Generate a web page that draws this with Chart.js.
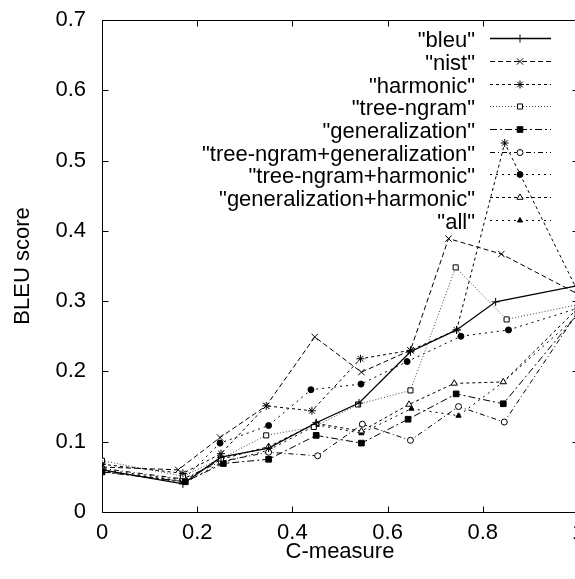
<!DOCTYPE html>
<html>
<head>
<meta charset="UTF-8" />
<title>BLEU score vs C-measure</title>
<script src="https://cdn.jsdelivr.net/npm/chart.js"></script>
<style>
  html, body { margin:0; padding:0; background:#fff; overflow:hidden; }
  #wrap { width:600px; height:579px; }
</style>
</head>
<body>
<div id="wrap"><canvas id="chart" width="600" height="579"></canvas></div>

<script>
// ---- tick labels ----
const xTicks      = [0, 0.2, 0.4, 0.6, 0.8, 1];
const xTickLabels = ['0', '0.2', '0.4', '0.6', '0.8', '1'];
const yTicks      = [0, 0.1, 0.2, 0.3, 0.4, 0.5, 0.6, 0.7];
const yTickLabels = ['0', '0.1', '0.2', '0.3', '0.4', '0.5', '0.6', '0.7'];

// ---- series (C-measure, BLEU score) ----
const bleuX    = [0, 0.17, 0.25, 0.35, 0.45, 0.54, 0.648, 0.745, 0.827, 1];
const bleuY    = [0.060, 0.040, 0.078, 0.091, 0.127, 0.155, 0.228, 0.259, 0.299, 0.322];
const nistX    = [0, 0.16, 0.248, 0.345, 0.447, 0.545, 0.648, 0.728, 0.839, 1];
const nistY    = [0.064, 0.060, 0.106, 0.151, 0.249, 0.199, 0.230, 0.389, 0.367, 0.310];
const harmX    = [0, 0.17, 0.25, 0.345, 0.441, 0.543, 0.648, 0.745, 0.846, 1];
const harmY    = [0.068, 0.055, 0.083, 0.151, 0.144, 0.218, 0.230, 0.259, 0.525, 0.313];
const treeX    = [0, 0.17, 0.25, 0.345, 0.445, 0.538, 0.648, 0.743, 0.85, 1];
const treeY    = [0.073, 0.051, 0.076, 0.109, 0.121, 0.153, 0.173, 0.348, 0.274, 0.295];
const genX     = [0, 0.175, 0.255, 0.35, 0.45, 0.545, 0.643, 0.744, 0.843, 1];
const genY     = [0.057, 0.043, 0.069, 0.075, 0.109, 0.098, 0.132, 0.168, 0.154, 0.282];
const treeGenX = [0, 0.17, 0.25, 0.35, 0.453, 0.547, 0.648, 0.749, 0.845, 1];
const treeGenY = [0.062, 0.047, 0.072, 0.085, 0.080, 0.125, 0.102, 0.150, 0.128, 0.285];
const treeHarX = [0, 0.17, 0.248, 0.35, 0.439, 0.544, 0.641, 0.754, 0.854, 1];
const treeHarY = [0.060, 0.046, 0.098, 0.123, 0.174, 0.182, 0.214, 0.250, 0.259, 0.290];
const genHarX  = [0, 0.17, 0.25, 0.35, 0.45, 0.545, 0.645, 0.74, 0.843, 1];
const genHarY  = [0.058, 0.044, 0.075, 0.093, 0.126, 0.115, 0.153, 0.183, 0.185, 0.290];
const allX     = [0, 0.175, 0.25, 0.35, 0.451, 0.545, 0.65, 0.749, 0.843, 1];
const allY     = [0.058, 0.042, 0.070, 0.088, 0.124, 0.112, 0.147, 0.137, 0.185, 0.280];

const seriesNames = ['"bleu"', '"nist"', '"harmonic"', '"tree-ngram"', '"generalization"',
  '"tree-ngram+generalization"', '"tree-ngram+harmonic"', '"generalization+harmonic"', '"all"'];

const FONT = '"Liberation Sans", Arial, Helvetica, sans-serif';

const pts = (xs, ys) => xs.map((x, i) => ({ x, y: ys[i] }));

// style per series: dash, point style, radius, filled
const styles = [
  { dash: [],           pt: 'cross',    r: 4,   fill: true,  w: 1.3, color: '#000' },
  { dash: [5, 3],       pt: 'crossRot', r: 4.5, fill: true,  w: 1,   color: '#000' },
  { dash: [3, 3],       pt: 'star',     r: 4,   fill: true,  w: 1,   color: '#000' },
  { dash: [1, 2],       pt: 'rect',     r: 3.6, fill: false, w: 1,   color: '#444' },
  { dash: [7, 3, 2, 3], pt: 'rect',     r: 4,   fill: true,  w: 1,   color: '#000' },
  { dash: [5, 3, 1, 3], pt: 'circle',   r: 3,   fill: false, w: 1,   color: '#000' },
  { dash: [2, 4],       pt: 'circle',   r: 3,   fill: true,  w: 1,   color: '#000' },
  { dash: [3, 3],       pt: 'triangle', r: 3.6, fill: false, w: 1,   color: '#000' },
  { dash: [2, 4],       pt: 'triangle', r: 3,   fill: true,  w: 1,   color: '#000' }
];

const allPts = [
  pts(bleuX, bleuY), pts(nistX, nistY), pts(harmX, harmY), pts(treeX, treeY), pts(genX, genY),
  pts(treeGenX, treeGenY), pts(treeHarX, treeHarY), pts(genHarX, genHarY), pts(allX, allY)
];

const datasets = allPts.map((data, i) => {
  const s = styles[i];
  return {
    label: seriesNames[i],
    data,
    borderColor: s.color,
    borderWidth: s.w,
    borderDash: s.dash,
    pointStyle: s.pt,
    pointRadius: s.r,
    pointBorderWidth: 1,
    pointBorderColor: '#000',
    pointBackgroundColor: s.fill ? '#000' : '#fff',
    fill: false,
    tension: 0
  };
});

// frame + inward ticks on all four sides (gnuplot style)
const framePlugin = {
  id: 'frame',
  beforeDatasetsDraw(chart) {
    const { ctx, chartArea: a, scales } = chart;
    const L = 6;
    const l = Math.round(a.left) + 0.5, r = Math.round(a.right) + 0.5;
    const t = Math.round(a.top) + 0.5,  b = Math.round(a.bottom) + 0.5;
    ctx.save();
    ctx.strokeStyle = '#000';
    ctx.lineWidth = 1;
    ctx.setLineDash([]);
    ctx.beginPath();
    ctx.moveTo(l, t); ctx.lineTo(r, t);
    ctx.moveTo(l, b); ctx.lineTo(r, b);
    ctx.moveTo(l, t); ctx.lineTo(l, b);
    ctx.moveTo(r, t); ctx.lineTo(r, b);
    xTicks.forEach(v => {
      const px = Math.round(scales.x.getPixelForValue(v)) + 0.5;
      ctx.moveTo(px, b); ctx.lineTo(px, b - L);
      ctx.moveTo(px, t); ctx.lineTo(px, t + L);
    });
    yTicks.forEach(v => {
      const py = Math.round(scales.y.getPixelForValue(v)) + 0.5;
      ctx.moveTo(l, py); ctx.lineTo(l + L, py);
      ctx.moveTo(r, py); ctx.lineTo(r - L, py);
    });
    ctx.stroke();
    ctx.restore();
  }
};

// gnuplot-like key: right-aligned text, sample line to the right
const keyPlugin = {
  id: 'gnuKey',
  afterDatasetsDraw(chart) {
    const ctx = chart.ctx;
    ctx.save();
    ctx.font = '22px ' + FONT;
    ctx.textAlign = 'right';
    ctx.textBaseline = 'alphabetic';
    chart.data.datasets.forEach((ds, i) => {
      const y = Math.round(38.3 + i * 22.65) + 0.5;
      ctx.fillStyle = '#000';
      ctx.fillText(ds.label, 475, y + 8);
      ctx.beginPath();
      ctx.setLineDash(ds.borderDash);
      ctx.lineWidth = ds.borderWidth;
      ctx.strokeStyle = ds.borderColor;
      ctx.moveTo(490, y); ctx.lineTo(551, y);
      ctx.stroke();
      ctx.setLineDash([]);
      ctx.fillStyle = ds.pointBackgroundColor;
      ctx.strokeStyle = '#000';
      ctx.lineWidth = 1;
      Chart.helpers.drawPoint(ctx, { pointStyle: ds.pointStyle, radius: ds.pointRadius, borderWidth: 1, rotation: 0 }, 520, y);
    });
    ctx.restore();
  }
};

new Chart(document.getElementById('chart'), {
  type: 'line',
  data: { datasets },
  plugins: [framePlugin, keyPlugin],
  options: {
    responsive: false,
    animation: false,
    devicePixelRatio: 1,
    layout: { padding: { top: 20, right: 22, bottom: 0, left: 0 } },
    plugins: { legend: { display: false }, tooltip: { enabled: false } },
    scales: {
      x: {
        type: 'linear', min: 0, max: 1,
        afterFit: s => { s.height = 67; s.paddingLeft = 0; s.paddingRight = 0; },
        afterBuildTicks: s => { s.ticks = xTicks.map(v => ({ value: v })); },
        grid: { display: false },
        border: { display: false },
        ticks: {
          color: '#000', padding: 0, maxRotation: 0,
          font: { family: FONT, size: 22 },
          callback: v => xTickLabels[xTicks.indexOf(v)]
        },
        title: {
          display: true, text: 'C-measure', color: '#000',
          font: { family: FONT, size: 22 }, padding: { top: 0, bottom: 14 }
        }
      },
      y: {
        type: 'linear', min: 0, max: 0.7,
        afterFit: s => { s.width = 102; s.paddingTop = 0; s.paddingBottom = 0; },
        afterBuildTicks: s => { s.ticks = yTicks.map(v => ({ value: v })); },
        grid: { display: false },
        border: { display: false },
        ticks: {
          color: '#000', padding: 8,
          font: { family: FONT, size: 22 },
          callback: v => yTickLabels[yTicks.indexOf(v)]
        },
        title: {
          display: true, text: 'BLEU score', color: '#000',
          font: { family: FONT, size: 22 }, padding: { top: 10, bottom: 0 }
        }
      }
    }
  }
});
</script>
</body>
</html>
